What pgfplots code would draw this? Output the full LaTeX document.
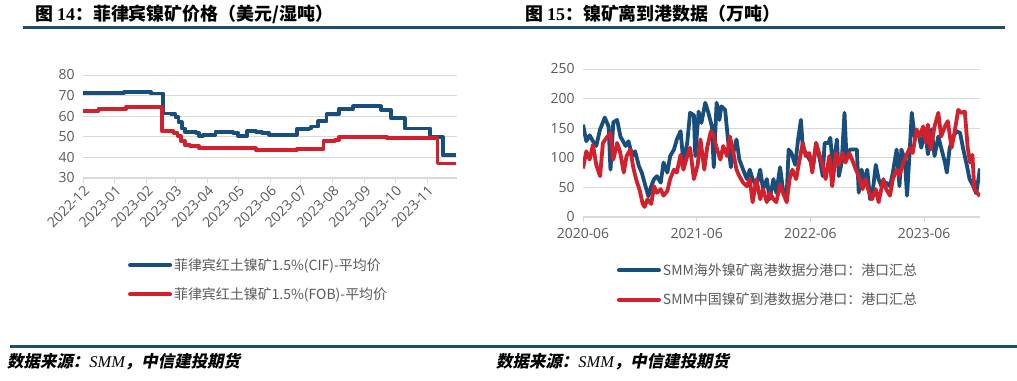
\documentclass[border=0pt]{standalone}
\usepackage{fontspec}
\usepackage{pgfplots}
\pgfplotsset{compat=1.18}
\setmainfont{Open Sans}
\newfontfamily\cjk{Noto Sans CJK SC}
\newfontfamily\cjksl[FakeSlant=0.2]{Noto Sans CJK SC}
\newfontfamily\serifb{Liberation Serif}
\definecolor{cifblue}{RGB}{24,78,124}
\definecolor{fobred}{RGB}{210,32,44}
\definecolor{rulec}{RGB}{31,78,107}
\definecolor{txt}{RGB}{89,89,89}
\definecolor{gridc}{RGB}{217,217,217}
\pgfplotsset{mystyle/.style={
  scale only axis,
  axis x line*=bottom, axis y line*=left,
  x axis line style={draw=gridc, line width=1bp, -},
  y axis line style={draw=none},
  ymajorgrids, grid style={draw=gridc, line width=0.9bp},
  major y tick style={draw=none},
  major x tick style={draw=gridc, line width=0.9bp},
  tick align=outside, major tick length=5bp,
  /pgf/number format/assume math mode=true,
  tick label style={font=\fontsize{14}{16}\selectfont, text=txt},
  every axis plot/.append style={line width=3.8bp, line join=round},
  legend style={draw=none, fill=none, font=\cjk\fontsize{14}{16}\selectfont, text=txt, row sep=12bp, inner sep=0pt},
  legend cell align=left,
  legend image code/.code={\draw[line width=4bp, line cap=round] (0bp,0bp) -- (40bp,0bp);},
}}
\begin{document}
\begin{tikzpicture}
\useasboundingbox (0bp,0bp) rectangle (1017bp,381bp);
% titles and rules
\node[anchor=west, inner sep=0pt] at (35bp,367bp) {\cjk\bfseries\fontsize{18}{20}\selectfont 图 {\serifb\bfseries 14}：菲律宾镍矿价格（美元/湿吨）};
\node[anchor=west, inner sep=0pt] at (525bp,367bp) {\cjk\bfseries\fontsize{18}{20}\selectfont 图 {\serifb\bfseries 15}：镍矿离到港数据（万吨）};
\draw[rulec, line width=3bp] (23bp,353bp) -- (1005bp,353bp);
\draw[rulec, line width=3bp] (10bp,34bp) -- (1017bp,34bp);
\node[anchor=west, inner sep=0pt] at (7bp,19bp) {\cjksl\bfseries\fontsize{16.5}{18}\selectfont 数据来源：{\serifb\itshape\mdseries SMM}，中信建投期货};
\node[anchor=west, inner sep=0pt] at (496bp,19bp) {\cjksl\bfseries\fontsize{16.5}{18}\selectfont 数据来源：{\serifb\itshape\mdseries SMM}，中信建投期货};

% left chart
\begin{axis}[mystyle, at={(83bp,203bp)}, anchor=south west, width=374bp, height=103bp,
  xmin=0, xmax=364, ymin=30, ymax=80, ytick={30,40,50,60,70,80},
  xtick={0,31,62,90,121,151,182,212,243,274,304,335},
  xticklabels={2022-12,2023-01,2023-02,2023-03,2023-04,2023-05,2023-06,2023-07,2023-08,2023-09,2023-10,2023-11},
  xticklabel style={rotate=45, anchor=north east, inner sep=1bp},
  legend style={at={(0.12,-0.76)}, anchor=north west}]
\addplot[cifblue, const plot] coordinates {
(0,71.3) (40,71.8) (66,71.0) (78,61.3) (86,61.0) (90,59.5) (93,57.0) (96,54.0) (99,52.3)
(110,52.0) (113,50.3) (117,51.0) (127,51.0) (129,52.4) (142,52.4) (146,52.0) (151,50.4)
(160,52.8) (168,52.4) (174,52.0) (181,51.0) (208,53.8) (220,54.0) (222,55.0) (229,57.5)
(237,61.0) (249,63.5) (263,64.8) (290,63.0) (300,59.0) (313,54.0) (338,50.0) (350,41.0) (363,41.0)};
\addlegendentry{菲律宾红土镍矿1.5\%(CIF)-平均价}
\addplot[fobred, const plot] coordinates {
(0,62.4) (15,63.4) (42,64.5) (77,52.8) (88,52.0) (92,50.5) (95,48.0) (99,46.0) (104,45.5)
(113,44.5) (168,43.5) (208,44.0) (234,48.0) (245,48.4) (249,50.0) (296,49.3) (345,37.0) (363,37.0)};
\addlegendentry{菲律宾红土镍矿1.5\%(FOB)-平均价}
\end{axis}

% right chart
\begin{axis}[mystyle, at={(583bp,164bp)}, anchor=south west, width=397bp, height=148bp,
  xmin=0, xmax=41.9, ymin=0, ymax=250, ytick={0,50,100,150,200,250},
  xtick={0,12,24,36}, xticklabels={2020-06,2021-06,2022-06,2023-06},
  xticklabel style={yshift=-3bp},
  legend style={at={(0.085,-0.30)}, anchor=north west}]
\addplot[cifblue] coordinates {
(0,156) (0.35,128) (0.7,138) (1.05,128) (1.4,120) (1.8,148) (2.3,168) (2.7,153) (2.9,80)
(3.2,160) (3.6,164) (3.95,136) (4.5,120) (4.8,128) (5.2,103) (5.5,111) (5.9,86) (6.2,75)
(6.6,52) (6.9,35) (7.2,52) (7.5,64) (7.8,69) (8.2,58) (8.5,92) (8.9,75) (9.2,103) (9.6,114)
(9.9,131) (10.3,145) (10.6,92) (11.0,125) (11.3,176) (11.7,172) (11.85,103) (12.2,178)
(12.5,159) (12.9,193) (13.2,178) (13.6,153) (13.8,84) (14.1,193) (14.4,164) (14.6,187)
(15.0,181) (15.3,131) (15.6,84) (15.9,111) (16.2,131) (16.5,97) (16.9,80) (17.3,64)
(17.6,80) (17.9,64) (18.3,52) (18.7,80) (19.0,47) (19.4,64) (19.7,30) (20.1,64) (20.4,41)
(20.8,84) (21.1,47) (21.5,36) (21.7,114) (22.0,108) (22.4,88) (22.7,131) (23.0,164)
(23.2,117) (23.6,106) (23.9,97) (24.3,88) (24.6,125) (25.0,97) (25.3,69) (25.5,125)
(25.9,125) (26.1,134) (26.4,80) (26.8,131) (27.0,69) (27.3,92) (27.6,176) (27.8,103)
(28.2,114) (28.5,114) (28.9,114) (29.1,41) (29.4,80) (29.7,58) (30.0,80) (30.3,30)
(30.6,47) (30.9,88) (31.2,64) (31.5,52) (32.0,58) (32.4,52) (32.7,75) (33.1,114) (33.4,52)
(33.6,114) (33.96,97) (34.2,36) (34.5,117) (34.7,176) (35.0,136) (35.4,142) (35.7,117)
(36.1,148) (36.4,106) (36.8,148) (37.1,103) (37.5,136) (37.8,117) (38.2,92) (38.4,75)
(38.7,117) (39.1,136) (39.4,145) (39.8,142) (40.1,117) (40.5,88) (40.8,64) (41.2,52)
(41.5,40) (41.9,82)};
\addlegendentry{SMM海外镍矿离港数据分港口：港口汇总}
\addplot[fobred] coordinates {
(0,82) (0.35,111) (0.7,97) (1.05,122) (1.4,88) (1.8,69) (2.1,125) (2.5,134) (2.9,142)
(3.2,97) (3.6,125) (3.9,111) (4.3,75) (4.6,103) (5.0,114) (5.3,84) (5.6,64) (6.0,44)
(6.3,22) (6.5,17) (6.8,30) (7.2,22) (7.5,52) (7.8,41) (8.2,47) (8.5,36) (8.9,44) (9.2,64)
(9.6,80) (9.9,75) (10.3,105) (10.6,80) (11.0,103) (11.3,117) (11.7,64) (12.1,88)
(12.4,131) (12.8,80) (13.1,117) (13.5,145) (13.8,136) (14.1,117) (14.5,97) (14.8,120)
(15.2,103) (15.5,136) (15.9,106) (16.2,80) (16.5,69) (16.9,58) (17.3,52) (17.6,64)
(17.9,25) (18.3,64) (18.7,30) (19.0,47) (19.4,25) (19.7,41) (20.1,30) (20.4,25) (20.8,55)
(21.1,41) (21.5,25) (21.8,64) (22.1,80) (22.5,64) (22.8,92) (23.2,125) (23.5,103)
(23.9,108) (24.2,75) (24.6,125) (24.9,108) (25.3,88) (25.6,64) (26.0,103) (26.3,52)
(26.7,108) (27.0,88) (27.4,108) (27.7,92) (28.1,108) (28.4,97) (28.8,80) (29.1,69)
(29.5,47) (29.8,64) (30.2,41) (30.5,30) (30.9,47) (31.2,25) (31.7,64) (32.0,47) (32.4,36)
(32.7,64) (33.1,80) (33.4,69) (33.8,92) (34.1,103) (34.5,117) (34.8,108) (35.2,148)
(35.5,136) (35.9,153) (36.2,125) (36.4,156) (36.7,114) (37.1,153) (37.5,176) (37.8,136)
(38.2,153) (38.5,162) (38.9,117) (39.2,142) (39.6,181) (39.9,176) (40.3,178) (40.6,117)
(40.85,92) (41.1,105) (41.3,47) (41.7,39) (41.9,35)};
\addlegendentry{SMM中国镍矿到港数据分港口：港口汇总}
\end{axis}
\end{tikzpicture}
\end{document}
